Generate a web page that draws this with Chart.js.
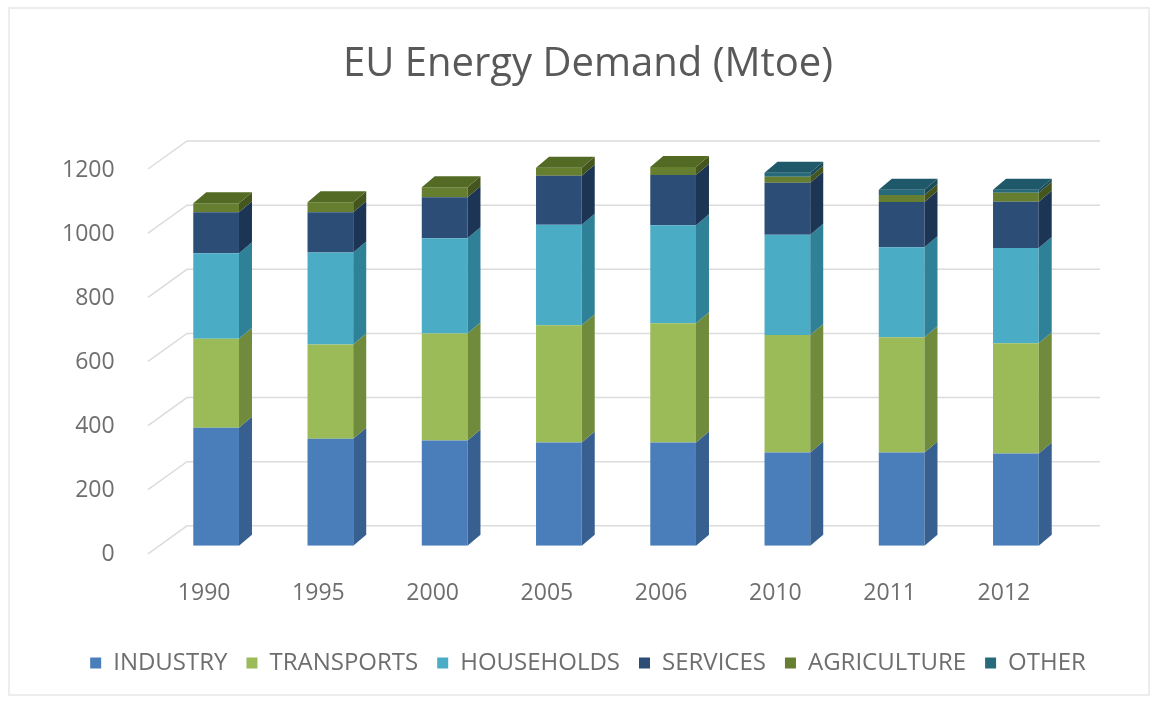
<!DOCTYPE html>
<html>
<head>
<meta charset="utf-8">
<title>EU Energy Demand</title>
<script src="https://cdn.jsdelivr.net/npm/chart.js@4/dist/chart.umd.min.js"></script>
<style>
  html, body { margin: 0; padding: 0; background: #ffffff; }
  #chart { display: block; }
</style>
</head>
<body>
<canvas id="chart" width="1157" height="703"></canvas>
<script>
const years = ["1990", "1995", "2000", "2005", "2006", "2010", "2011", "2012"];

// Mtoe per sector, stacked bottom to top
const industry = [368, 334, 328, 322, 322, 291, 291, 288];
const transports = [278, 294, 334, 366, 372, 366, 359, 344];
const households = [266, 287, 297, 313, 306, 313, 281, 297];
const services = [128, 125, 128, 153, 156, 162, 141, 144];
const agriculture = [28, 31, 31, 25, 25, 19, 22, 28];
const other = [0, 0, 0, 0, 0, 12, 16, 9];

const sectorNames = ["INDUSTRY", "TRANSPORTS", "HOUSEHOLDS", "SERVICES", "AGRICULTURE", "OTHER"];
const yMax = 1200;
const yStep = 200;

const frontColors = ["#4a7ebb", "#9bbb59", "#4bacc6", "#2c4d75", "#667e2f", "#276a7c"];
const sideColors = ["#375f8f", "#6f8b3b", "#2f8198", "#1c3554", "#44561d", "#1a4b58"];
const topColors = ["#5b8cc6", "#86a548", "#3e9ab3", "#24405f", "#526a24", "#1f5868"];

const font = "'Open Sans', sans-serif";
const textColor = "#6e6e6e";

// extrusion of each column, in pixels
const depthX = 13;
const depthY = -11;

const depth3d = {
  id: "depth3d",
  beforeDraw (chart) {

    const { ctx, width, height } = chart;
    ctx.save();
    ctx.strokeStyle = "#ededed";
    ctx.lineWidth = 2;
    ctx.strokeRect(9, 8, width - 17, height - 16);
    ctx.restore();

  },
  beforeDatasetsDraw (chart) {

    // back wall grid plus the slanted lines on the side wall
    const { ctx, chartArea } = chart;
    const yScale = chart.scales.y;
    ctx.save();
    ctx.strokeStyle = "#dcdcdc";
    ctx.lineWidth = 1.5;
    for (let v = 0; v <= yMax; v += yStep) {
      const y = yScale.getPixelForValue(v) - 20;
      ctx.beginPath();
      ctx.moveTo(chartArea.left - 11, y + 28);
      ctx.lineTo(chartArea.left + 28, y);
      ctx.lineTo(chartArea.right + 27, y);
      ctx.stroke();
    }
    ctx.restore();

  },
  afterDatasetsDraw (chart) {

    const { ctx } = chart;
    const count = chart.data.labels.length;
    ctx.save();
    for (let i = 0; i < count; i++) {
      let top = null;
      chart.data.datasets.forEach((ds, d) => {
        const bar = chart.getDatasetMeta(d).data[i];
        const { x, y, base, width } = bar.getProps(["x", "y", "base", "width"], true);
        if (Math.abs(base - y) < 0.5) return;
        const xr = x + width / 2;
        ctx.fillStyle = sideColors[d];
        ctx.beginPath();
        ctx.moveTo(xr, y);
        ctx.lineTo(xr + depthX, y + depthY);
        ctx.lineTo(xr + depthX, base + depthY);
        ctx.lineTo(xr, base);
        ctx.closePath();
        ctx.fill();
        top = { d, x, y, width };
      });
      if (top) {
        const xl = top.x - top.width / 2;
        const xr = top.x + top.width / 2;
        ctx.fillStyle = topColors[top.d];
        ctx.beginPath();
        ctx.moveTo(xl, top.y);
        ctx.lineTo(xl + depthX, top.y + depthY);
        ctx.lineTo(xr + depthX, top.y + depthY);
        ctx.lineTo(xr, top.y);
        ctx.closePath();
        ctx.fill();
      }
    }
    ctx.restore();

  },
};

const series = [industry, transports, households, services, agriculture, other];

const datasets = series.map((values, d) => ({
  label: sectorNames[d],
  data: values,
  backgroundColor: frontColors[d],
  borderWidth: 0,
  barPercentage: 0.8,
  categoryPercentage: 0.5,
}));

const options = {
  responsive: false,
  animation: false,
  layout: {
    padding: { top: 41, left: 60, right: 41, bottom: 18 },
  },
  plugins: {
    title: {
      display: true,
      text: "EU Energy Demand (Mtoe)",
      color: "#595959",
      font: { family: font, size: 40, weight: 400 },
      padding: { top: 0, bottom: 72 },
    },
    legend: {
      position: "bottom",
      labels: {
        color: textColor,
        font: { family: font, size: 24, lineHeight: 1 },
        boxWidth: 11,
        boxHeight: 11,
        padding: 19,
      },
    },
    tooltip: { enabled: false },
  },
  scales: {
    x: {
      stacked: true,
      border: { display: false },
      grid: { display: false, drawTicks: false },
      ticks: {
        color: textColor,
        font: { family: font, size: 23, lineHeight: 0.4 },
        padding: 43,
        labelOffset: -12,
      },
      afterFit (scale) {

        scale.height -= 9;

      },
    },
    y: {
      stacked: true,
      min: 0,
      max: yMax,
      border: { display: false },
      grid: { display: false, drawTicks: false },
      ticks: {
        stepSize: yStep,
        color: textColor,
        font: { family: font, size: 23 },
        mirror: true,
        crossAlign: "far",
        padding: -97,
        labelOffset: 9,
        callback: (value) => String(value),
      },
      afterFit (scale) {

        scale.width = 99;

      },
    },
    // empty right-hand gutter for the wall depth
    gutter: {
      type: "linear",
      axis: "y",
      position: "right",
      border: { display: false },
      grid: { display: false, drawTicks: false },
      ticks: { display: false },
      afterFit (scale) {

        scale.width = 43;

      },
    },
  },
};

new Chart(document.getElementById("chart"), {
  type: "bar",
  data: { labels: years, datasets },
  options,
  plugins: [depth3d],
});
</script>
</body>
</html>
